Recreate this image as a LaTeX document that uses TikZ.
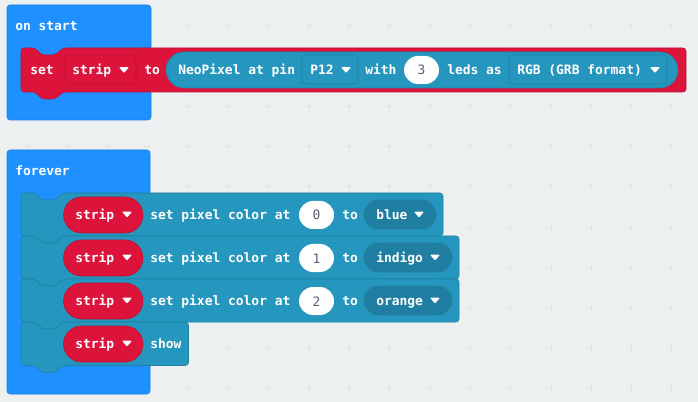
\documentclass[tikz,border=0pt]{standalone}
\usepackage{fontspec}
\setmonofont{DejaVu Sans Mono}
\definecolor{pagebg}{HTML}{ECF0F1}
\definecolor{gridplus}{HTML}{DFE3E4}
\definecolor{eventblue}{HTML}{1E90FF}
\definecolor{eventedge}{HTML}{1B81E5}
\definecolor{stripred}{HTML}{DC143C}
\definecolor{stripedge}{HTML}{BC1133}
\definecolor{pixelteal}{HTML}{2596BE}
\definecolor{pixeledge}{HTML}{2280A3}
\definecolor{pixeldark}{HTML}{1F7EA1}
\definecolor{numtext}{HTML}{575E75}
\tikzset{
  blocktext/.style={anchor=base west,inner sep=0pt,text=white,font=\ttfamily\bfseries\fontsize{9.7}{11}\selectfont},
  numlabel/.style={anchor=base,inner sep=0pt,text=numtext,font=\ttfamily\fontsize{9.7}{11}\selectfont},
  eventblock/.style={fill=eventblue,draw=eventedge,rounded corners=2.25pt},
  redblock/.style={fill=stripred,draw=stripedge,rounded corners=2.25pt},
  tealblock/.style={fill=pixelteal,draw=pixeledge,rounded corners=2.25pt},
  reddrop/.style={fill=stripred,draw=stripedge,rounded corners=2.25pt},
  tealdrop/.style={fill=pixelteal,draw=pixeledge,rounded corners=2.25pt},
}
\newcommand{\stackblock}[5]{\draw[#5] ( #1 , #2 ) -- ( #1 + 14 , #2 ) -- ( #1 + 21 , #2 + 7 ) -- ( #1 + 34 , #2 + 7 ) -- ( #1 + 42 , #2 ) -- ( #3 , #2 ) -- ( #3 , #4 ) -- ( #1 + 42 , #4 ) -- ( #1 + 34 , #4 + 7 ) -- ( #1 + 21 , #4 + 7 ) -- ( #1 + 14 , #4 ) -- ( #1 , #4 ) -- cycle;}
\newcommand{\pill}[7]{\draw[fill=#5,draw=#6,rounded corners=#7] ( #1 , #2 ) rectangle ( #3 , #4 );}
\newcommand{\droparrow}[2]{\fill[white,rounded corners=0.7pt] ( #1 - 5 , #2 - 2.8 ) -- ( #1 + 5 , #2 - 2.8 ) -- ( #1 , #2 + 3 ) -- cycle;}
\newcommand{\lablnode}[4]{\node[blocktext] (#1) at ( #2 , #3 ) {#4};}
\newcommand{\numpill}[4]{\fill[white,rounded corners=10.5pt] ( #1 , #2 ) rectangle ( #1 + 35 , #2 + 28 ); \node[numlabel] (#3) at ( #1 + 17.5 , #2 + 19 ) {#4};}
\begin{document}
\begin{tikzpicture}[x=0.75pt,y=-0.75pt]
        \useasboundingbox (0,0) rectangle (698,402);
        \fill[pagebg] (0,0) rectangle (698,402);

        % grid
        \foreach \gx in {0,...,17}
          \foreach \gy in {0,...,9}
            \draw[gridplus,line width=0.6pt] ( 27 + \gx * 40.3 - 3.5 , 25.7 + \gy * 40.3 ) -- ( 27 + \gx * 40.3 + 3.5 , 25.7 + \gy * 40.3 )
              ( 27 + \gx * 40.3 , 25.7 + \gy * 40.3 - 3.5 ) -- ( 27 + \gx * 40.3 , 25.7 + \gy * 40.3 + 3.5 );

        % on start
        \draw[eventblock] (7,5) rectangle (151,120);
        \lablnode{onstart}{15}{31}{on start}

        \stackblock{21}{48}{686}{92}{redblock}
        \lablnode{setword}{30}{75}{set}
        \draw[reddrop] (65,55) rectangle (136,84);
        \lablnode{setstrip}{72}{75}{strip}
        \droparrow{124}{70}
        \lablnode{setto}{144}{75}{to}

        \pill{166}{52}{678}{88}{pixelteal}{pixeledge}{13.5pt}
        \lablnode{neopixel}{178}{75}{NeoPixel at pin}
        \draw[tealdrop] (302,55) rectangle (358,84);
        \lablnode{pinname}{310}{75}{P12}
        \droparrow{346}{70}
        \lablnode{withword}{365}{75}{with}
        \numpill{404}{56}{ledcount}{3}
        \lablnode{ledsas}{447}{75}{leds as}
        \draw[tealdrop] (509,55) rectangle (667,84);
        \lablnode{rgbformat}{517}{75}{RGB (GRB format)}
        \droparrow{655}{70}

        % forever
        \draw[eventblock] (7,150) rectangle (150,394);
        \lablnode{forever}{15}{176}{forever}

        \stackblock{21}{193}{443}{236}{tealblock}
        \stackblock{21}{236}{459}{279}{tealblock}
        \stackblock{21}{279}{459}{322}{tealblock}
        \stackblock{21}{322}{188.5}{365.5}{tealblock}

        % row1
        \pill{63.5}{197}{143}{233}{stripred}{stripedge}{13.5pt}
        \lablnode{stripA}{75}{219.5}{strip}
        \droparrow{127}{214.5}
        \lablnode{setA}{150}{219.5}{set pixel color at}
        \numpill{299}{201}{numA}{0}
        \lablnode{toA}{342}{219.5}{to}
        \pill{364}{200}{436}{229}{pixeldark}{pixeledge}{10.8pt}
        \lablnode{blue}{376}{219.5}{blue}
        \droparrow{419}{214.5}

        % row2
        \pill{63.5}{240}{143}{276}{stripred}{stripedge}{13.5pt}
        \lablnode{stripB}{75}{262.5}{strip}
        \droparrow{127}{257.5}
        \lablnode{setB}{150}{262.5}{set pixel color at}
        \numpill{299}{244}{numB}{1}
        \lablnode{toB}{342}{262.5}{to}
        \pill{364}{243}{452}{272}{pixeldark}{pixeledge}{10.8pt}
        \lablnode{indigo}{376}{262.5}{indigo}
        \droparrow{435}{257.5}

        % row3
        \pill{63.5}{283}{143}{319}{stripred}{stripedge}{13.5pt}
        \lablnode{stripC}{75}{305.5}{strip}
        \droparrow{127}{300.5}
        \lablnode{setC}{150}{305.5}{set pixel color at}
        \numpill{299}{287}{numC}{2}
        \lablnode{toC}{342}{305.5}{to}
        \pill{364}{286}{452}{315}{pixeldark}{pixeledge}{10.8pt}
        \lablnode{orange}{376}{305.5}{orange}
        \droparrow{435}{300.5}

        % row4
        \pill{63.5}{326}{143}{362}{stripred}{stripedge}{13.5pt}
        \lablnode{stripD}{75}{348.5}{strip}
        \droparrow{127}{343.5}
        \lablnode{showword}{150}{348.5}{show}
\end{tikzpicture}
\end{document}
